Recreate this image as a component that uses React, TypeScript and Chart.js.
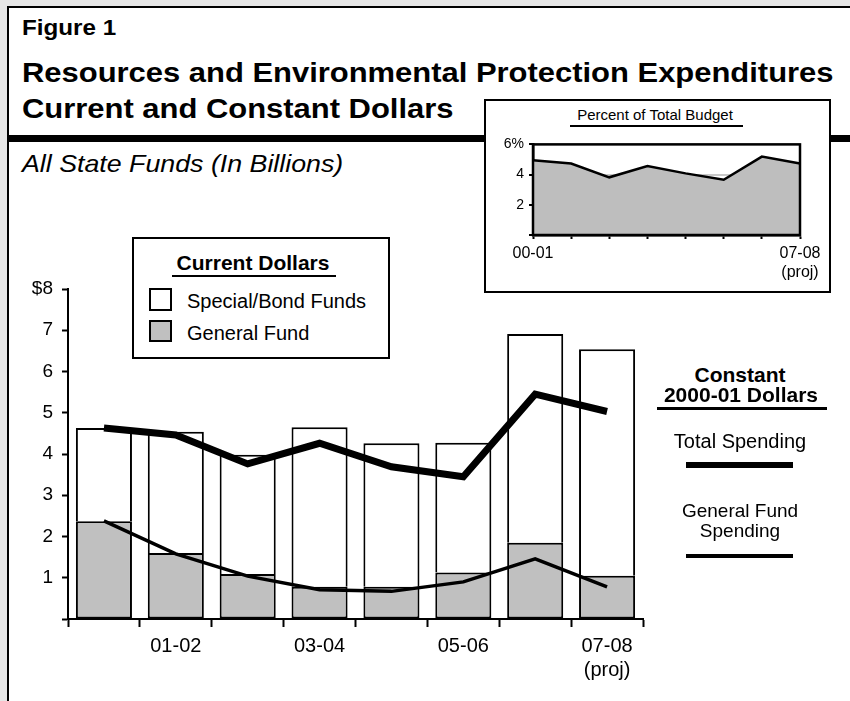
import React, { useEffect, useRef } from 'react';
import { Chart, registerables } from 'chart.js';
Chart.register(...registerables);

// ---- Data ----
const years = ['00-01', '01-02', '02-03', '03-04', '04-05', '05-06', '06-07', '07-08'];
const xTickLabels: (string | string[])[] = ['', '01-02', '', '03-04', '', '05-06', '', ['07-08', '(proj)']];
const generalFund = [2.37, 1.6, 1.09, 0.78, 0.78, 1.13, 1.85, 1.05];
const specialBond = [2.26, 2.94, 2.89, 3.87, 3.48, 3.14, 5.06, 5.49];
const totalConstant = [4.63, 4.46, 3.76, 4.26, 3.69, 3.45, 5.45, 5.03];
const gfConstant = [2.38, 1.58, 1.04, 0.71, 0.67, 0.9, 1.46, 0.78];
const yTickLabels: Record<number, string> = { 1: '1', 2: '2', 3: '3', 4: '4', 5: '5', 6: '6', 7: '7', 8: '$8' };

const pctBudget = [4.95, 4.73, 3.82, 4.56, 4.08, 3.66, 5.19, 4.73];
const insetXLabels: (string | string[])[] = ['00-01', '', '', '', '', '', '', ['07-08', '(proj)']];
const insetYLabels: Record<number, string> = { 2: '2', 4: '4', 6: '6%' };

const FONT = "'Liberation Sans', Arial, Helvetica, sans-serif";
const GRAY = '#c0c0c0';

function Txt(props: {
  x: number; y: number; size: number; bold?: boolean; italic?: boolean;
  center?: boolean; sx?: number; children: React.ReactNode;
}) {
  const { x, y, size, bold, italic, center, sx = 1, children } = props;
  return (
    <div
      style={{
        position: 'absolute',
        left: x,
        top: y - 0.8465 * size,
        fontFamily: FONT,
        fontSize: size,
        lineHeight: 1,
        fontWeight: bold ? 700 : 400,
        fontStyle: italic ? 'italic' : 'normal',
        whiteSpace: 'nowrap',
        color: '#000',
        transformOrigin: '0 0',
        transform: center ? `translateX(-50%) scaleX(${sx})` : `scaleX(${sx})`,
      }}
    >
      {children}
    </div>
  );
}

function Box(props: { x: number; y: number; w: number; h: number; bg?: string; border?: string }) {
  const { x, y, w, h, bg = '#000', border } = props;
  return (
    <div
      style={{
        position: 'absolute', left: x, top: y, width: w, height: h, background: bg,
        border, boxSizing: 'border-box',
      }}
    />
  );
}

export default function App() {
  const mainRef = useRef<HTMLCanvasElement | null>(null);
  const insetRef = useRef<HTMLCanvasElement | null>(null);

  useEffect(() => {
    Chart.defaults.font.family = FONT;
    Chart.defaults.color = '#000';

    const main = new Chart(mainRef.current!, {
      type: 'bar',
      data: {
        labels: years,
        datasets: [
          {
            type: 'bar', label: 'General Fund', data: generalFund, backgroundColor: GRAY,
            borderColor: '#000', borderWidth: 2, borderSkipped: false, stack: 'cur', order: 2,
            categoryPercentage: 1, barPercentage: 0.78,
          },
          {
            type: 'bar', label: 'Special/Bond Funds', data: specialBond, backgroundColor: '#fff',
            borderColor: '#000', borderWidth: 2, borderSkipped: 'bottom', stack: 'cur', order: 2,
            categoryPercentage: 1, barPercentage: 0.78,
          },
          {
            type: 'line', label: 'Total Spending', data: totalConstant, borderColor: '#000',
            borderWidth: 7, pointRadius: 0, tension: 0, fill: false, stack: 'tot', order: 0,
            borderJoinStyle: 'miter', borderCapStyle: 'butt',
          },
          {
            type: 'line', label: 'General Fund Spending', data: gfConstant, borderColor: '#000',
            borderWidth: 3.5, pointRadius: 0, tension: 0, fill: false, stack: 'gf', order: 0,
            borderJoinStyle: 'miter', borderCapStyle: 'butt',
          },
        ] as any,
      },
      options: {
        responsive: false,
        animation: false,
        devicePixelRatio: 1,
        layout: { padding: { left: 0, top: 29, right: 37, bottom: 0 } },
        plugins: { legend: { display: false }, tooltip: { enabled: false }, title: { display: false } },
        scales: {
          x: {
            type: 'category',
            stacked: true,
            offset: true,
            afterFit: (s: any) => { s.height = 81; },
            grid: {
              display: true, offset: true, drawOnChartArea: false, drawTicks: true,
              tickLength: 8, tickColor: '#000', tickWidth: 2,
            },
            border: { display: true, color: '#000', width: 2 },
            ticks: {
              autoSkip: false, maxRotation: 0, minRotation: 0, padding: 7,
              font: { size: 20, family: FONT }, color: '#000',
              callback: (_v: any, i: number) => xTickLabels[i],
            },
          },
          y: {
            stacked: true,
            min: 0, max: 8,
            afterFit: (s: any) => { s.width = 68; },
            grid: {
              display: true, drawOnChartArea: false, drawTicks: true,
              tickLength: 6, tickColor: '#000', tickWidth: 2,
            },
            border: { display: true, color: '#000', width: 2 },
            ticks: {
              stepSize: 1, padding: 9,
              font: { size: 19, family: FONT }, color: '#000',
              callback: (v: any) => yTickLabels[v as number] ?? '',
            },
          },
        },
      } as any,
    });

    const framePlugin = {
      id: 'insetFrame',
      afterDraw(chart: any) {
        const { ctx, chartArea } = chart;
        ctx.save();
        ctx.strokeStyle = '#000';
        ctx.lineWidth = 2.5;
        ctx.strokeRect(chartArea.left, chartArea.top, chartArea.right - chartArea.left, chartArea.bottom - chartArea.top);
        ctx.restore();
      },
    };

    const inset = new Chart(insetRef.current!, {
      type: 'line',
      data: {
        labels: years,
        datasets: [
          {
            label: 'Percent of Total Budget', data: pctBudget, borderColor: '#000', borderWidth: 2.5,
            backgroundColor: '#bebebe', fill: 'origin', pointRadius: 0, tension: 0,
            borderJoinStyle: 'miter',
          },
        ],
      },
      options: {
        responsive: false,
        animation: false,
        devicePixelRatio: 1,
        layout: { padding: { left: 0, top: 12, right: 27, bottom: 0 } },
        plugins: { legend: { display: false }, tooltip: { enabled: false }, filler: { propagate: false } },
        scales: {
          x: {
            type: 'category',
            offset: false,
            afterFit: (s: any) => { s.height = 56; },
            grid: {
              display: true, drawOnChartArea: false, drawTicks: true,
              tickLength: 4, tickColor: '#000', tickWidth: 2,
            },
            border: { display: true, color: '#000', width: 2.5 },
            ticks: {
              autoSkip: false, maxRotation: 0, minRotation: 0, padding: 5,
              font: { size: 16, family: FONT }, color: '#000',
              callback: (_v: any, i: number) => insetXLabels[i],
            },
          },
          y: {
            min: 0, max: 6,
            afterFit: (s: any) => { s.width = 46; },
            grid: {
              display: true, drawOnChartArea: true, drawTicks: true, color: '#c8c8c8', lineWidth: 2,
              tickLength: 4, tickColor: '#000', tickWidth: 2,
            },
            border: { display: true, color: '#000', width: 2.5 },
            ticks: {
              stepSize: 1, padding: 5,
              font: { size: 14, family: FONT }, color: '#000',
              callback: (v: any) => insetYLabels[v as number] ?? '',
            },
          },
        },
      } as any,
      plugins: [framePlugin],
    });

    return () => {
      main.destroy();
      inset.destroy();
    };
  }, []);

  return (
    <div
      style={{
        position: 'fixed', left: 0, top: 0, width: 850, height: 701, overflow: 'hidden',
        background: '#e6e6e6', fontFamily: FONT,
      }}
    >
      {/* white card with left/top border */}
      <div
        style={{
          position: 'absolute', left: 7, top: 6, width: 900, height: 800, background: '#fff',
          borderLeft: '2px solid #000', borderTop: '2px solid #000',
        }}
      />
      {/* heading */}
      <Txt x={22} y={36} size={22} bold sx={1.1}>Figure 1</Txt>
      <Txt x={22} y={83} size={28} bold sx={1.105}>Resources and Environmental Protection Expenditures</Txt>
      <Txt x={22} y={119} size={28} bold sx={1.105}>Current and Constant Dollars</Txt>
      <Box x={9} y={135} w={841} h={7} />
      <Txt x={22} y={172} size={24} italic sx={1.115}>All State Funds (In Billions)</Txt>

      {/* main chart */}
      <canvas
        ref={mainRef}
        width={680}
        height={440}
        style={{ position: 'absolute', left: 0, top: 260, width: 680, height: 440 }}
      />

      {/* current dollars legend */}
      <Box x={132} y={237} w={258} h={122} bg="#fff" border="2px solid #000" />
      <Txt x={253} y={270} size={21} bold center>Current Dollars</Txt>
      <Box x={172} y={275} w={164} h={2} />
      <Box x={149} y={288} w={23} h={23} bg="#fff" border="2px solid #000" />
      <Txt x={187} y={308} size={20}>Special/Bond Funds</Txt>
      <Box x={149} y={320} w={23} h={22} bg={GRAY} border="2px solid #000" />
      <Txt x={187} y={340} size={20}>General Fund</Txt>

      {/* constant dollars legend */}
      <Txt x={740} y={382} size={21} bold center>Constant</Txt>
      <Txt x={741} y={402} size={21} bold center>2000-01 Dollars</Txt>
      <Box x={657} y={407} w={170} h={2.5} />
      <Txt x={740} y={448} size={20} center>Total Spending</Txt>
      <Box x={686} y={462} w={107} h={6} />
      <Txt x={740} y={517} size={19} center>General Fund</Txt>
      <Txt x={740} y={537} size={19} center>Spending</Txt>
      <Box x={686} y={554} w={107} h={4} />

      {/* inset */}
      <Box x={484} y={99} w={347} h={194} bg="#fff" border="2px solid #000" />
      <Txt x={655} y={120} size={15} center>Percent of Total Budget</Txt>
      <Box x={570} y={125} w={173} h={2} />
      <canvas
        ref={insetRef}
        width={340}
        height={160}
        style={{ position: 'absolute', left: 487, top: 131, width: 340, height: 160 }}
      />
    </div>
  );
}
